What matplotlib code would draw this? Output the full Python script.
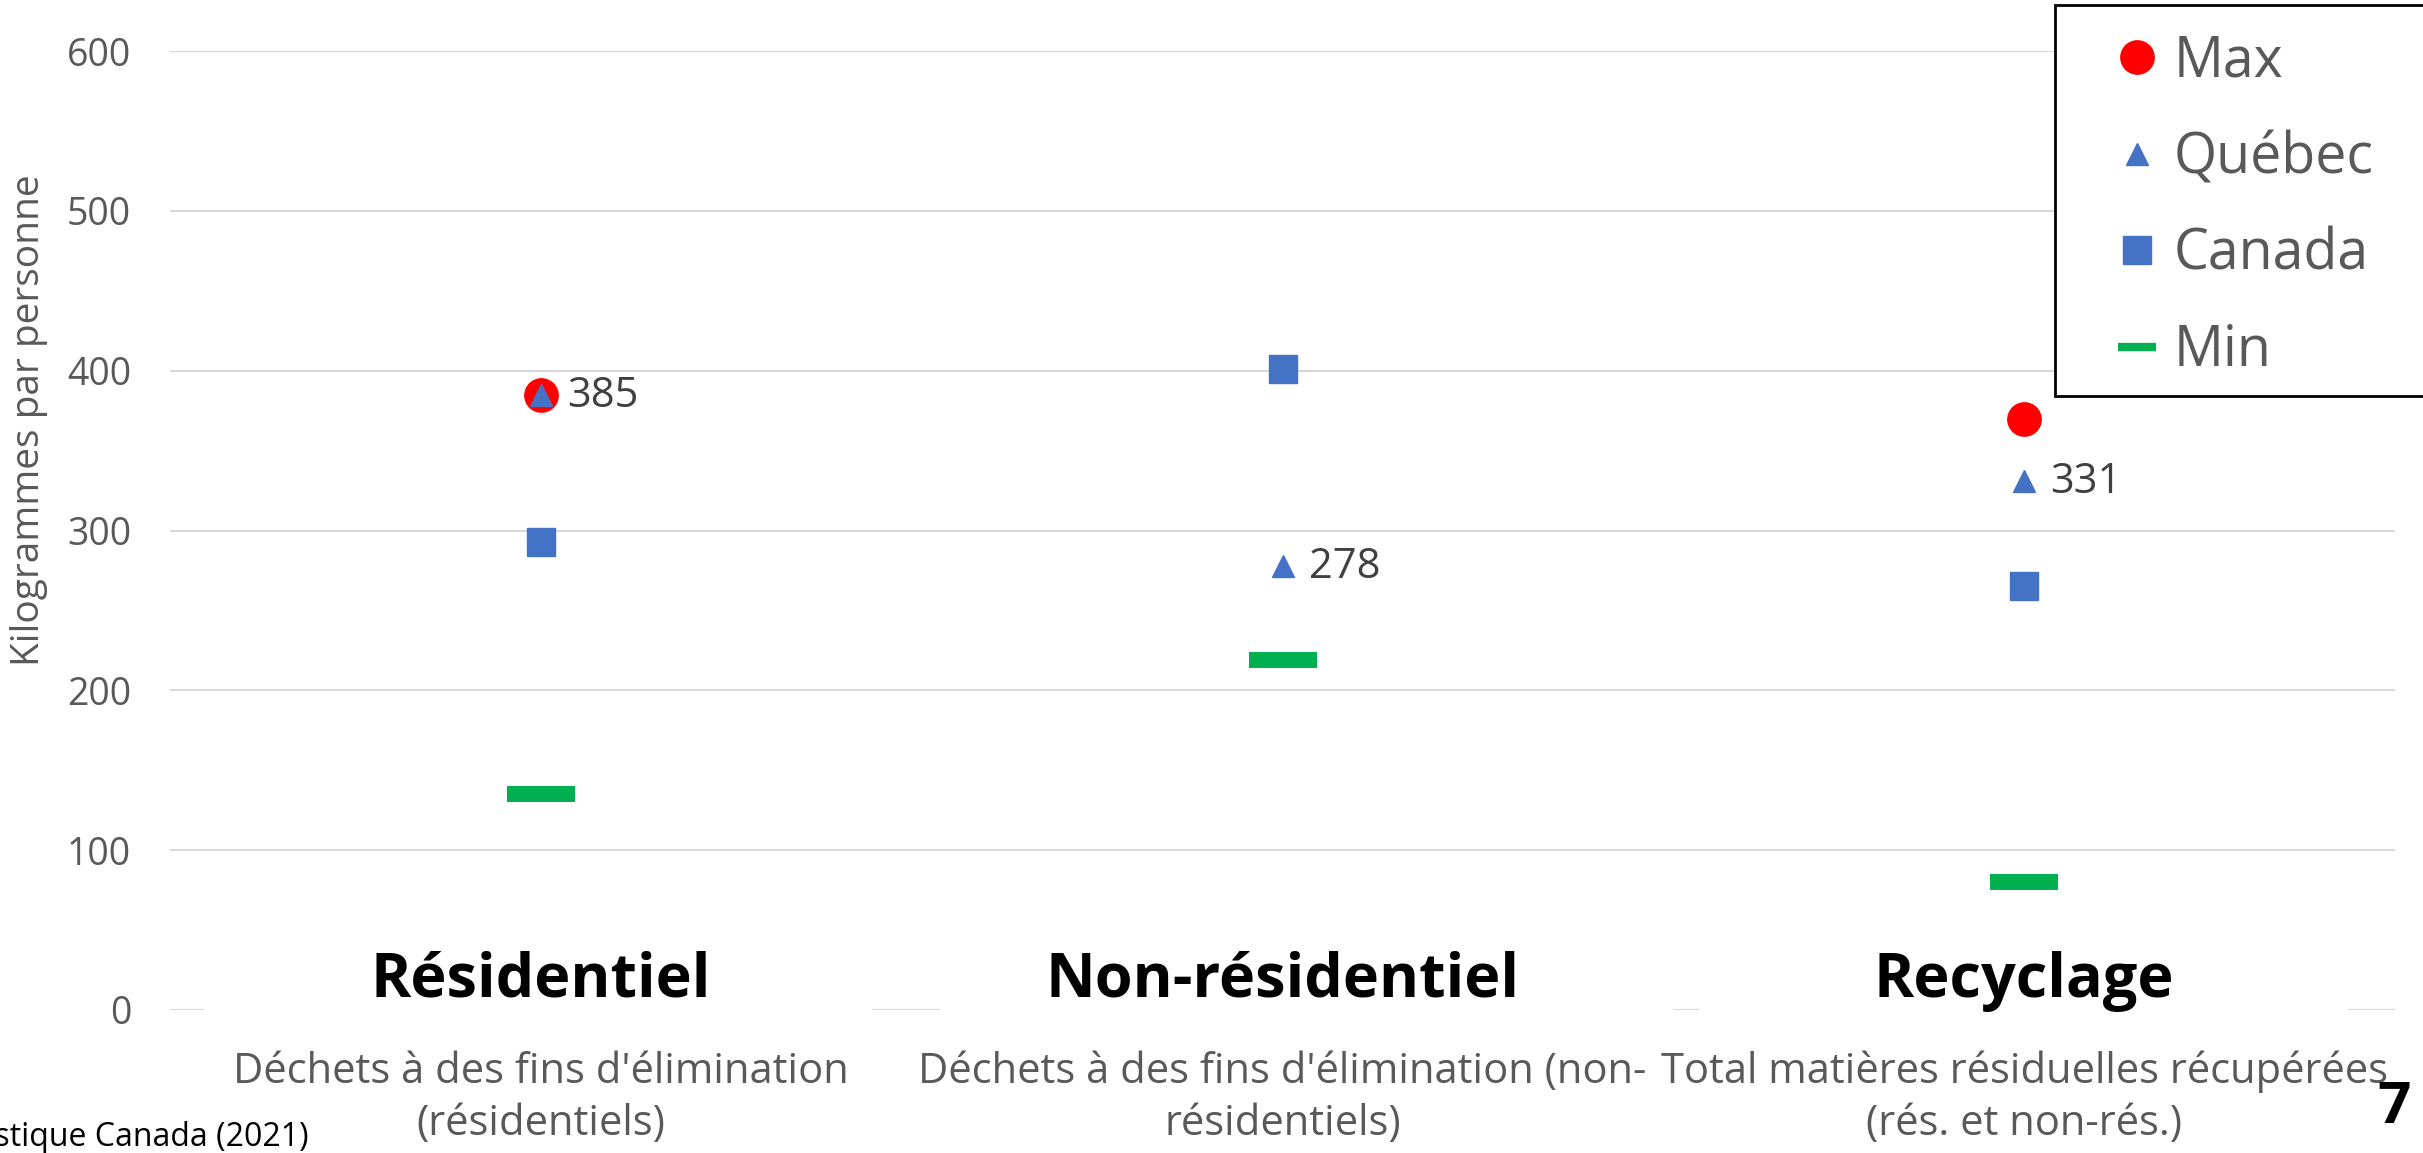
import numpy as np
import matplotlib.pyplot as plt
from matplotlib.lines import Line2D
from matplotlib.patches import Rectangle
from matplotlib.transforms import blended_transform_factory

plt.rcParams['font.family'] = ['Open Sans', 'DejaVu Sans']

# Données (kg par personne)
categories = ["Résidentiel", "Non-résidentiel", "Recyclage"]
sous_titres = ["Déchets à des fins d'élimination\n(résidentiels)",
               "Déchets à des fins d'élimination (non-\nrésidentiels)",
               "Total matières résiduelles récupérées\n(rés. et non-rés.)"]
val_max = [385, np.nan, 370]
val_quebec = [385, 278, 331]
val_canada = [293, 401, 265]
val_min = [135, 219, 80]
ticks_y = [0, 100, 200, 300, 400, 500, 600]

W, H = 2423, 1153
fig = plt.figure(figsize=(W / 100, H / 100), dpi=100)


def fy(py):
    return 1 - py / H


ax = fig.add_axes([170 / W, fy(1010), (2395 - 170) / W, (1010 - 51) / H])
x = np.arange(len(categories))

rouge = "#FF0000"
bleu = "#4472C4"
vert = "#00B050"

ax.plot(x, val_min, ls="none", marker="_", ms=49, mew=11.5, color=vert, zorder=3, clip_on=False)
ax.plot(x, val_max, ls="none", marker="o", ms=24, color=rouge, zorder=3, clip_on=False)
ax.plot(x, val_canada, ls="none", marker="s", ms=19.5, color=bleu, zorder=4, clip_on=False)
ax.plot(x, val_quebec, ls="none", marker="^", ms=16, color=bleu, zorder=5, clip_on=False)

# étiquettes Québec
for i, v in enumerate(val_quebec):
    ax.annotate(str(v), (x[i], v), xytext=(19, -1), textcoords="offset points",
                ha="left", va="center", fontsize=30, color="#404040", zorder=6)

ax.set_xlim(-0.5, 2.5)
ax.set_ylim(0, 600)
ax.set_yticks(ticks_y)
ax.set_xticks([])
ax.grid(axis="y", color="#D9D9D9", lw=1.5)
ax.set_axisbelow(True)
for s in ax.spines.values():
    s.set_visible(False)
ax.tick_params(axis="y", length=0, pad=28, labelsize=27, labelcolor="#595959")
ax.set_ylabel("Kilogrammes par personne", fontsize=28, color="#595959")
ax.yaxis.set_label_coords(-0.055, 0.615)

# titres des catégories (zones de texte blanches)
tr = blended_transform_factory(ax.transData, fig.transFigure)
boites = [(-0.454, 0.447), (0.538, 1.527), (1.562, 2.437)]
for i, (cat, st) in enumerate(zip(categories, sous_titres)):
    a, b = boites[i]
    fig.add_artist(Rectangle((a, fy(1030)), b - a, 40 / H, transform=tr,
                             facecolor="white", edgecolor="none", zorder=2))
    fig.text(x[i], fy(981), cat, transform=tr, ha="center", va="center",
             fontsize=44, fontweight="bold", color="black", zorder=3)
    fig.text(x[i], fy(1098), st, transform=tr, ha="center", va="center",
             fontsize=30, color="#595959", linespacing=1.3, zorder=3)

# légende
poignees = [
    Line2D([], [], ls="none", marker="o", ms=24, color=rouge),
    Line2D([], [], ls="none", marker="^", ms=16, color=bleu),
    Line2D([], [], ls="none", marker="s", ms=19.5, color=bleu),
    Line2D([], [], ls="none", marker="_", ms=28, mew=6, color=vert),
]
fig.add_artist(Rectangle((2055 / W, fy(396)), 400 / W, 391 / H, transform=fig.transFigure,
                         facecolor="white", edgecolor="black", lw=2, zorder=5))
leg = fig.legend(poignees, ["Max", "Québec", "Canada", "Min"], loc="upper left",
                 bbox_to_anchor=(2081 / W, fy(6)), frameon=False, fontsize=40,
                 labelcolor="#595959", handlelength=1.0, handletextpad=0.16,
                 labelspacing=0.71, borderpad=0)
leg.set_zorder(6)

fig.text(309 / W, fy(1138), "Source : Statistique Canada (2021)", ha="right", va="center",
         fontsize=23, color="black")
fig.text(2394 / W, fy(1108), "7", ha="center", va="center", fontsize=42,
         fontweight="bold", color="black")

fig.savefig("out.png", dpi=100)
